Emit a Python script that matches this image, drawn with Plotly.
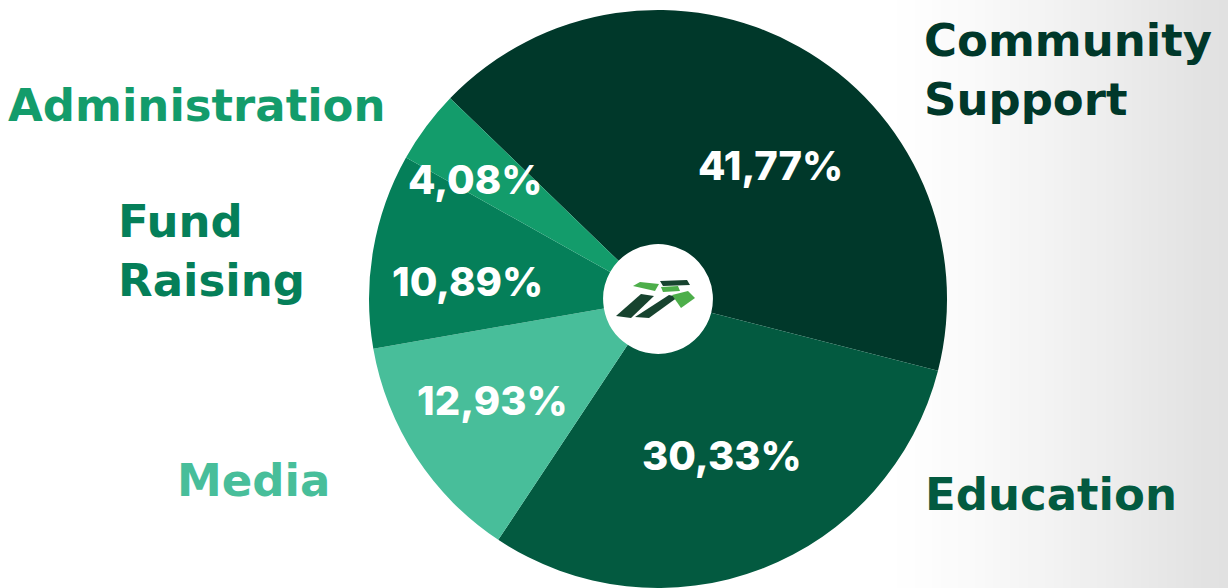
import math
import plotly.graph_objects as go

categories = ["Community Support", "Education", "Media", "Fund Raising", "Administration"]
values = [41.77, 30.33, 12.93, 10.89, 4.08]
pct_labels = ["41,77%", "30,33%", "12,93%", "10,89%", "4,08%"]
colors = ["#00382A", "#035A40", "#48BE9A", "#057F59", "#139C6B"]

# label placement (style): radial fraction and angular nudge (deg) per slice
label_r = [0.606, 0.584, 0.672, 0.663, 0.755]
label_dth = [10.9, -1.3, 1.8, -4.6, -3.6]

W, H = 1228, 588
ROT = -46
PCT_FONT = "Inter, 'Open Sans', sans-serif"
LBL_FONT = "'DejaVu Sans', sans-serif"

dom_x = [0.3005, 0.7712]
dom_y = [0.0, 0.983]

fig = go.Figure()
fig.add_trace(go.Pie(
    labels=categories, values=values, text=pct_labels,
    sort=False, direction="clockwise", rotation=ROT, hole=0.19,
    marker=dict(colors=colors, line=dict(width=0)),
    textinfo="none",
    domain=dict(x=dom_x, y=dom_y),
    showlegend=False, hoverinfo="label+text",
))

def px(x, y):
    return x / W, 1 - y / H

shapes = []
# soft gray gradient on the right side
n = 40
x0, x1 = 880, W
for i in range(n):
    a = x0 + (x1 - x0) * i / n
    b = x0 + (x1 - x0) * (i + 1) / n
    t = (i + 0.5) / n
    g = int(round(255 - 31 * t ** 1.3))
    shapes.append(dict(type="rect", xref="paper", yref="paper",
                       x0=a / W, x1=b / W + 0.001, y0=0, y1=1,
                       fillcolor=f"rgb({g},{g},{g})", line=dict(width=0), layer="below"))

def poly(pts, color):
    p = "M " + " L ".join(f"{x/W:.5f},{1-y/H:.5f}" for x, y in pts) + " Z"
    return dict(type="path", xref="paper", yref="paper", path=p,
                fillcolor=color, line=dict(width=0), layer="above")

# small logo in the hole
DK, LG = "#17432F", "#4DAE4A"
shapes += [
    poly([(616, 316), (631, 318), (654, 296), (641, 294)], DK),
    poly([(635, 317), (649, 318), (678, 297), (669, 295)], DK),
    poly([(660, 281), (687, 280), (690, 285), (663, 286)], DK),
    poly([(633, 286), (640, 282), (659, 284), (655, 291)], LG),
    poly([(661, 287), (678, 286), (680, 291), (663, 292)], LG),
    poly([(672, 295), (688, 291), (695, 298), (681, 308)], LG),
]

ann = []
# percentage labels placed along each slice's bisector
cx = (dom_x[0] + dom_x[1]) / 2 * W
cy = H - (dom_y[0] + dom_y[1]) / 2 * H
R = min((dom_x[1] - dom_x[0]) * W, (dom_y[1] - dom_y[0]) * H) / 2
total = sum(values)
start = ROT
for v, t, fr, dth in zip(values, pct_labels, label_r, label_dth):
    span = v / total * 360
    mid = math.radians(start + span / 2 + dth)
    start += span
    lx = cx + fr * R * math.sin(mid)
    ly = cy - fr * R * math.cos(mid)
    ax, ay = px(lx, ly)
    ann.append(dict(text=t, x=ax, y=ay, xref="paper", yref="paper",
                    xanchor="center", yanchor="middle", showarrow=False,
                    font=dict(family=PCT_FONT, size=40, color="white", weight=800)))

def label(text, x, y, color):
    ax, ay = px(x, y)
    ann.append(dict(text=text, x=ax, y=ay, xref="paper", yref="paper",
                    xanchor="left", yanchor="middle", showarrow=False, align="left",
                    font=dict(family=LBL_FONT, size=45, color=color, weight="bold")))

label("Administration", 6, 105, "#139C6B")
label("Fund<br>Raising", 116, 251, "#057F59")
label("Media", 175, 480, "#48BE9A")
label("Community<br>Support", 922, 70, "#00382A")
label("Education", 923, 494, "#035A40")

fig.update_layout(
    width=W, height=H, margin=dict(l=0, r=0, t=0, b=0),
    paper_bgcolor="white", plot_bgcolor="white",
    shapes=shapes, annotations=ann,
)
fig.write_html("out.html", config={"displayModeBar": False},
               post_script="document.body.style.margin='0';")
